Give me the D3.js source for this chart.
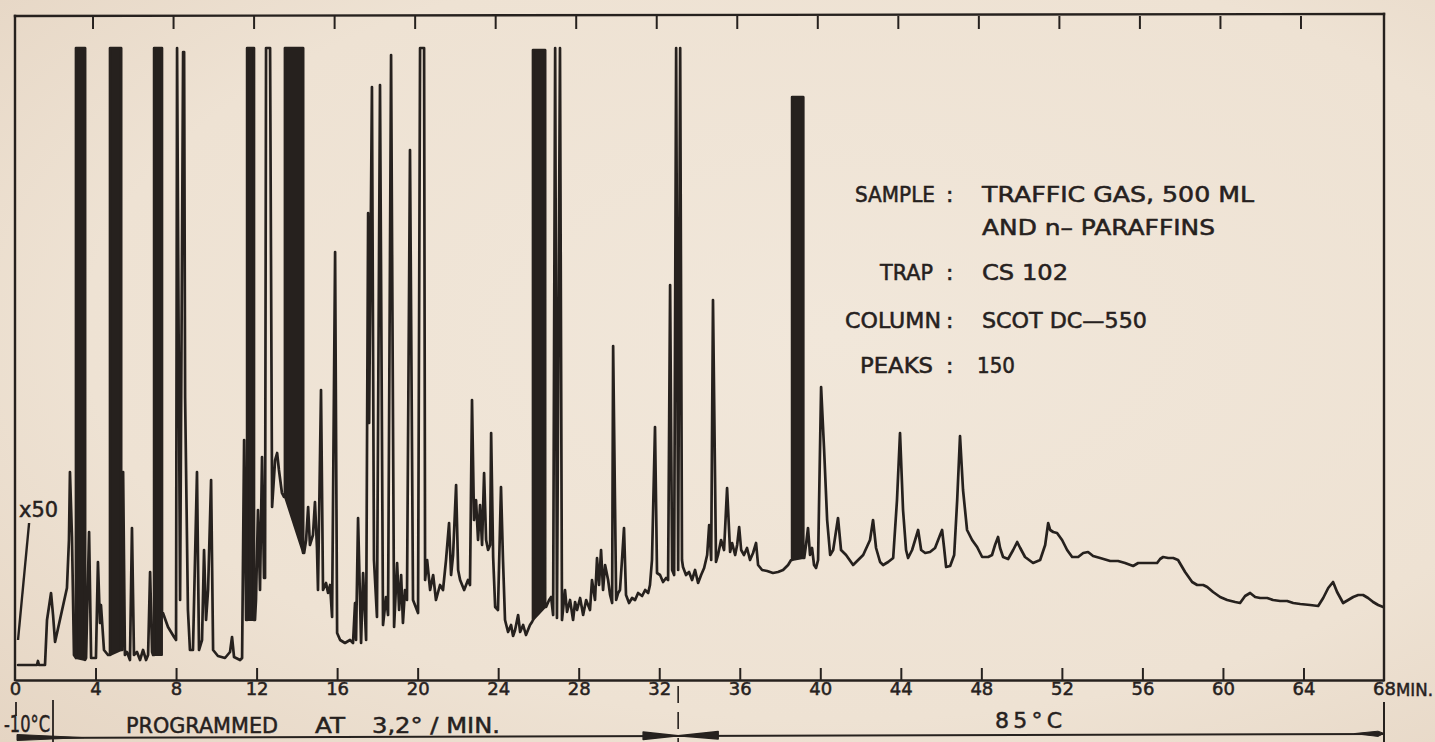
<!DOCTYPE html>
<html>
<head>
<meta charset="utf-8">
<script src="https://cdn.jsdelivr.net/npm/d3@7"></script>
<style>
html,body{margin:0;padding:0;background:#eee3d5;overflow:hidden;}
svg{display:block;}
</style>
</head>
<body>
<svg id="chart" width="1435" height="742"></svg>
<script>
// ---------------- DATA ----------------
// time axis ticks (minutes)
const tickMinutes = [0,4,8,12,16,20,24,28,32,36,40,44,48,52,56,60,64,68];

// detector trace: [retention time (min), response (arb. units, 632 = pen limit)]
const chromatogram = [
[0.15,15],[1.09,15],[1.14,19],[1.19,15],[1.49,15],[1.59,60],[1.79,87],[1.89,65],[1.99,38],[2.58,92],[2.68,140],[2.73,208],[2.83,143],[2.93,25],[3.03,22],[3.03,632],[3.48,632],[3.48,20],[3.53,22],[3.68,148],[3.78,22],[4.02,22],[4.12,118],[4.22,57],[4.27,75],[4.42,30],[4.62,25],[4.72,25],[4.72,632],[5.27,632],[5.27,30],[5.32,30],[5.37,208],[5.46,25],[5.56,28],[5.71,20],[5.81,152],[5.91,25],[6.06,28],[6.21,20],[6.36,30],[6.51,20],[6.61,25],[6.71,108],[6.81,28],[6.86,25],[6.91,25],[6.91,632],[7.30,632],[7.30,67],[7.35,67],[7.60,53],[7.90,43],[8.00,40],[8.05,632],[8.20,80],[8.35,628],[8.40,628],[8.45,282],[8.59,70],[8.69,30],[8.84,30],[9.04,208],[9.14,30],[9.29,40],[9.39,130],[9.49,60],[9.59,90],[9.74,200],[9.84,30],[10.08,24],[10.43,22],[10.68,28],[10.78,43],[10.88,23],[11.18,20],[11.28,22],[11.38,240],[11.48,60],[11.53,60],[11.53,632],[11.87,632],[11.87,60],[11.92,60],[11.97,80],[12.07,170],[12.17,90],[12.27,223],[12.37,102],[12.42,102],[12.47,632],[12.67,632],[12.77,173],[12.92,220],[13.02,227],[13.11,210],[13.26,187],[13.36,183],[13.41,183],[13.41,632],[14.31,632],[14.31,127],[14.36,127],[14.46,140],[14.56,173],[14.65,135],[14.80,145],[14.90,178],[15.00,132],[15.05,90],[15.20,290],[15.30,90],[15.45,97],[15.55,87],[15.65,95],[15.75,63],[15.90,428],[16.00,47],[16.15,40],[16.39,37],[16.64,40],[16.79,37],[16.89,77],[16.94,40],[17.04,162],[17.19,37],[17.29,107],[17.44,40],[17.54,467],[17.59,257],[17.73,593],[17.83,120],[17.98,63],[18.13,595],[18.28,55],[18.43,83],[18.53,65],[18.68,625],[18.83,53],[18.98,117],[19.08,70],[19.18,105],[19.27,57],[19.37,90],[19.47,80],[19.62,530],[19.77,80],[20.02,67],[20.12,632],[20.32,632],[20.37,100],[20.47,120],[20.62,90],[20.77,105],[20.91,80],[21.11,95],[21.26,90],[21.41,120],[21.56,157],[21.66,105],[21.76,125],[21.91,195],[22.01,110],[22.11,100],[22.31,90],[22.50,100],[22.60,95],[22.70,280],[22.80,160],[22.90,180],[23.00,140],[23.10,175],[23.20,135],[23.30,207],[23.40,140],[23.50,130],[23.60,135],[23.65,247],[23.75,123],[23.85,73],[23.99,70],[24.14,193],[24.24,120],[24.34,60],[24.49,48],[24.64,55],[24.74,44],[24.84,50],[24.99,65],[25.09,48],[25.24,55],[25.38,45],[25.58,55],[25.68,58],[25.73,60],[25.73,630],[26.33,630],[26.33,73],[26.38,73],[26.53,80],[26.63,83],[26.73,65],[26.83,632],[26.92,62],[27.07,632],[27.17,60],[27.32,90],[27.42,68],[27.57,80],[27.72,60],[27.82,78],[27.92,70],[28.07,82],[28.22,65],[28.37,80],[28.56,70],[28.66,100],[28.81,80],[28.91,122],[29.01,95],[29.11,130],[29.21,90],[29.31,115],[29.46,100],[29.56,85],[29.66,77],[29.71,334],[29.86,80],[29.96,87],[30.05,90],[30.15,120],[30.25,152],[30.35,85],[30.50,77],[30.65,82],[30.80,80],[30.95,87],[31.15,84],[31.30,90],[31.45,87],[31.54,95],[31.64,120],[31.79,253],[31.89,107],[32.04,105],[32.19,98],[32.34,102],[32.44,100],[32.54,395],[32.64,110],[32.74,105],[32.84,632],[32.94,110],[33.04,632],[33.13,120],[33.18,113],[33.33,105],[33.48,108],[33.63,100],[33.78,110],[33.93,97],[34.08,105],[34.23,112],[34.38,125],[34.48,155],[34.58,120],[34.67,380],[34.82,118],[34.92,125],[35.07,140],[35.22,130],[35.37,192],[35.52,128],[35.62,137],[35.77,125],[35.87,135],[35.97,153],[36.07,130],[36.21,125],[36.36,132],[36.51,120],[36.66,127],[36.81,137],[36.91,115],[37.11,110],[37.36,109],[37.65,107],[37.90,108],[38.15,110],[38.40,115],[38.55,120],[38.60,120],[38.60,583],[39.15,583],[39.15,122],[39.20,122],[39.29,135],[39.39,152],[39.49,125],[39.59,132],[39.69,115],[39.79,112],[39.89,120],[40.04,293],[40.19,230],[40.34,160],[40.49,125],[40.64,130],[40.88,162],[41.03,130],[41.28,125],[41.63,115],[41.88,120],[42.13,125],[42.47,140],[42.62,160],[42.77,132],[42.97,118],[43.12,115],[43.37,118],[43.62,122],[43.81,180],[43.96,247],[44.11,170],[44.26,130],[44.36,122],[44.56,130],[44.86,150],[45.01,130],[45.21,127],[45.45,128],[45.70,132],[45.95,145],[46.05,150],[46.15,132],[46.25,113],[46.45,114],[46.65,125],[46.80,180],[46.94,244],[47.09,190],[47.29,150],[47.54,140],[47.79,133],[48.04,123],[48.34,123],[48.53,125],[48.68,135],[48.83,143],[48.93,132],[49.08,123],[49.33,121],[49.58,130],[49.78,138],[49.93,132],[50.17,123],[50.57,117],[50.92,120],[51.17,135],[51.32,157],[51.42,150],[51.57,148],[51.76,147],[52.01,140],[52.26,130],[52.51,123],[52.81,123],[53.06,127],[53.30,128],[53.55,124],[53.90,122],[54.40,119],[54.79,119],[55.14,117],[55.54,114],[55.79,117],[56.14,117],[56.38,117],[56.73,117],[56.88,121],[57.03,123],[57.28,122],[57.53,122],[57.77,120],[58.12,108],[58.47,98],[58.72,95],[59.02,95],[59.22,93],[59.51,88],[59.86,83],[60.21,80],[60.61,78],[60.85,77],[61.10,84],[61.35,87],[61.60,83],[61.85,82],[62.20,82],[62.49,80],[62.84,79],[63.19,79],[63.49,77],[63.84,76],[64.33,75],[64.73,74],[64.98,82],[65.23,92],[65.47,98],[65.67,88],[65.97,77],[66.22,80],[66.47,83],[66.72,85],[66.96,85],[67.21,82],[67.46,78],[67.71,75],[67.96,73]
];

// off-scale (saturated) peak bands: [start min, end min, base left, base right, top]
const saturatedBands = [
[3.03,3.48,22,20,632],[4.72,5.27,25,30,632],[6.91,7.30,25,25,632],[11.53,11.87,60,60,632],
[13.41,14.31,183,127,632],[25.73,26.33,60,73,630],[38.60,39.15,120,122,583]
];

// attenuation marker (x50) at start: [min, response]
const attenuationMarker = [[0.15,40],[0.70,157]];
const attenuationLabel = "x50";

// legend
const legendKeys = ["SAMPLE","TRAP","COLUMN","PEAKS"];
const legendValues = [["TRAFFIC GAS, 500 ML","AND n– PARAFFINS"],["CS 102"],["SCOT DC—550"],["150"]];

// temperature programme
const startTemp = "-10°C";
const programText = ["PROGRAMMED","AT","3,2° / MIN."];
const isoTemp = "85°C";
const isothermStartMin = 32.94;
const timeUnit = "MIN.";

// ---------------- DRAW ----------------
const W = 1435, H = 742;
const ink = "#26211e";
const FONT = "'DejaVu Sans', 'Liberation Sans', sans-serif";
const svg = d3.select("#chart");

// paper
const defs = svg.append("defs");
const grad = defs.append("radialGradient").attr("id","paper").attr("cx","58%").attr("cy","45%").attr("r","80%");
grad.append("stop").attr("offset","0%").attr("stop-color","#f1e7da");
grad.append("stop").attr("offset","65%").attr("stop-color","#eee2d3");
grad.append("stop").attr("offset","100%").attr("stop-color","#e5d5c3");
svg.append("rect").attr("width",W).attr("height",H).attr("fill","url(#paper)");

const x = d3.scaleLinear().domain([0,68]).range([15,1384]);
const y = d3.scaleLinear().domain([0,664]).range([680,16]);

// frame
const frame = svg.append("g").attr("stroke",ink).attr("fill","none").attr("stroke-linecap","square");
frame.append("line").attr("x1",x(0)).attr("x2",x(0)).attr("y1",y(664)).attr("y2",y(0)).attr("stroke-width",2.4);
frame.append("line").attr("x1",x(68)).attr("x2",x(68)).attr("y1",y(664)-2).attr("y2",y(0)).attr("stroke-width",2.4);
frame.append("line").attr("x1",x(0)).attr("x2",x(68)).attr("y1",y(664)).attr("y2",y(664)-2).attr("stroke-width",2.4);

// top ticks
const topAxis = svg.append("g").attr("transform",`translate(-3,${y(664)})`)
  .call(d3.axisTop(x).tickValues(tickMinutes.slice(1,-1)).tickSize(-13).tickFormat(""));
topAxis.select(".domain").remove();
topAxis.selectAll(".tick line").attr("stroke",ink).attr("stroke-width",2);

// bottom axis
const bottomAxis = svg.append("g").attr("transform",`translate(0,${y(0)})`)
  .call(d3.axisBottom(x).tickValues(tickMinutes).tickSize(-12).tickSizeOuter(0).tickPadding(2).tickFormat(d=>d));
bottomAxis.attr("color",ink).attr("font-family",FONT).attr("font-size",18);
bottomAxis.select(".domain").attr("stroke-width",2.4);
bottomAxis.selectAll(".tick line").attr("stroke-width",2);
bottomAxis.selectAll(".tick text").attr("fill",ink).attr("stroke",ink).attr("stroke-width",0.5);
bottomAxis.selectAll(".tick").filter(d=>d===0||d===68).select("line").remove();
svg.append("text").attr("x",x(68)+12).attr("y",y(0)+15.5).attr("font-family",FONT).attr("font-size",18)
  .attr("fill",ink).attr("stroke",ink).attr("stroke-width",0.5).attr("textLength",37).attr("lengthAdjust","spacingAndGlyphs").text(timeUnit);

// saturated bands
svg.append("g").selectAll("path").data(saturatedBands).join("path")
  .attr("d",d=>`M${x(d[0])},${y(d[2])}L${x(d[0])},${y(d[4])}L${x(d[1])},${y(d[4])}L${x(d[1])},${y(d[3])}Z`)
  .attr("fill",ink).attr("stroke",ink).attr("stroke-width",2).attr("stroke-linejoin","round");

// trace
const line = d3.line().x(d=>x(d[0])).y(d=>y(d[1]));
svg.append("path").datum(chromatogram).attr("d",line)
  .attr("fill","none").attr("stroke",ink).attr("stroke-width",2.7)
  .attr("stroke-linejoin","round").attr("stroke-linecap","round");

// attenuation marker
svg.append("path").datum(attenuationMarker).attr("d",line).attr("fill","none").attr("stroke",ink).attr("stroke-width",2.4);
svg.append("text").attr("x",x(0)+4).attr("y",517).attr("font-family",FONT).attr("font-size",21).attr("fill",ink)
  .attr("stroke",ink).attr("stroke-width",0.5).attr("textLength",39).attr("lengthAdjust","spacingAndGlyphs").text(attenuationLabel);

// legend
const legendRows = [202,280,328,373];
const keyX = [855,880,845,860], keyLen = [80,53,96,73];
const valX = [982,982,982,977];
const valLen = [[272,233],[86],[165],[38]];
const lg = svg.append("g").attr("font-family",FONT).attr("font-size",22).attr("fill",ink).attr("stroke",ink).attr("stroke-width",0.55);
legendKeys.forEach((k,i)=>{
  lg.append("text").attr("x",keyX[i]).attr("y",legendRows[i]).attr("textLength",keyLen[i]).attr("lengthAdjust","spacingAndGlyphs").text(k);
  lg.append("text").attr("x",946).attr("y",legendRows[i]).text(":");
  legendValues[i].forEach((v,j)=>{
    lg.append("text").attr("x",valX[i]).attr("y",legendRows[i]+j*33).attr("textLength",valLen[i][j]).attr("lengthAdjust","spacingAndGlyphs").text(v);
  });
});

// temperature programme row
const tp = svg.append("g").attr("stroke",ink).attr("fill","none");
tp.append("line").attr("x1",x(0)+2).attr("x2",x(68)).attr("y1",738).attr("y2",734).attr("stroke-width",2);
tp.append("line").attr("x1",x(0)+1).attr("x2",x(0)+1).attr("y1",702).attr("y2",716).attr("stroke-width",1.8);
tp.append("line").attr("x1",53).attr("x2",53).attr("y1",700).attr("y2",742).attr("stroke-width",1.8);
tp.append("line").attr("x1",x(68)).attr("x2",x(68)).attr("y1",702).attr("y2",742).attr("stroke-width",2);
tp.append("line").attr("x1",x(isothermStartMin)).attr("x2",x(isothermStartMin)).attr("y1",686).attr("y2",742)
  .attr("stroke-width",1.6).attr("stroke-dasharray","17,9");
const cx = x(isothermStartMin);
tp.append("path").attr("d",`M${cx-35},732L${cx},735.8L${cx-35},739.5Z`).attr("fill",ink).attr("stroke-linejoin","round").attr("stroke-width",1.5);
tp.append("path").attr("d",`M${cx+40},731.5L${cx},735.8L${cx+40},739Z`).attr("fill",ink).attr("stroke-linejoin","round").attr("stroke-width",1.5);
tp.append("path").attr("d",`M17,734.5L84,737.6L17,740.5Z`).attr("fill",ink).attr("stroke-width",1);
tp.append("path").attr("d",`M${x(68)-30},733.6L${x(68)-6},731.2L${x(68)},733.4L${x(68)-6},736.4Z`).attr("fill",ink).attr("stroke-width",1);

const tt = svg.append("g").attr("font-family",FONT).attr("fill",ink).attr("stroke",ink).attr("stroke-width",0.5);
tt.append("text").attr("x",4).attr("y",732).attr("font-size",23).attr("textLength",46).attr("lengthAdjust","spacingAndGlyphs").text(startTemp);
const progX = [126,315,372], progLen = [152,30,128];
programText.forEach((s,i)=>{
  tt.append("text").attr("x",progX[i]).attr("y",733).attr("font-size",21).attr("textLength",progLen[i]).attr("lengthAdjust","spacingAndGlyphs").text(s);
});
tt.append("text").attr("x",995).attr("y",728).attr("font-size",22).attr("textLength",67).attr("lengthAdjust","spacing").text(isoTemp);
</script>
</body>
</html>
